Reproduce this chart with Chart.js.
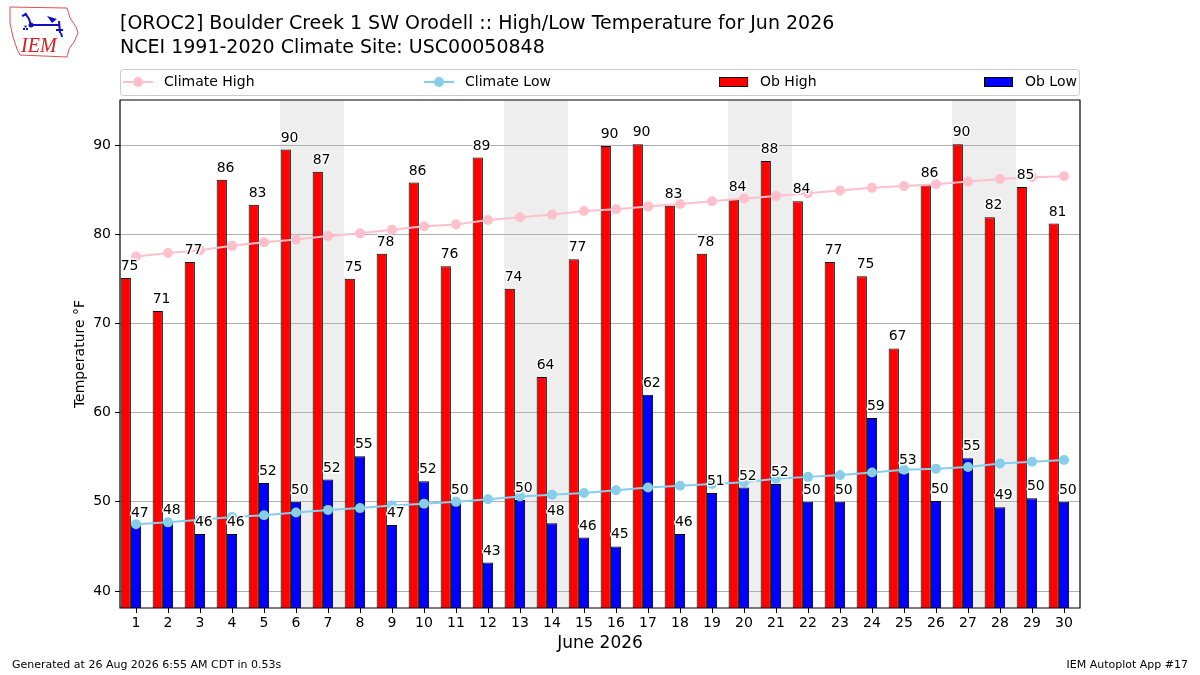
<!DOCTYPE html>
<html>
<head>
<meta charset="utf-8">
<title>Boulder Creek High/Low Temperature</title>
<script src="https://cdn.jsdelivr.net/npm/chart.js@4.4.1/dist/chart.umd.min.js"></script>
<style>
  html, body { margin: 0; padding: 0; background: #fff; }
</style>
</head>
<body>
<canvas id="chart" width="1200" height="675"></canvas>
<script>
// June 2026 days
const days = ['1','2','3','4','5','6','7','8','9','10','11','12','13','14','15',
  '16','17','18','19','20','21','22','23','24','25','26','27','28','29','30'];
const weekendDays = ['6','7','13','14','20','21','27','28'];

const obHigh = [75.1, 71.4, 76.9, 86.1, 83.3, 89.5, 87.0, 75.0, 77.8, 85.8,
  76.4, 88.6, 73.9, 64.0, 77.2, 89.9, 90.1, 83.2, 77.8, 83.9,
  88.2, 83.7, 76.9, 75.3, 67.2, 85.5, 90.1, 81.9, 85.3, 81.2];
const obLow = [47.4, 47.7, 46.4, 46.4, 52.1, 50.0, 52.5, 55.1, 47.4, 52.3,
  50.0, 43.2, 50.2, 47.6, 46.0, 45.0, 62.0, 46.4, 51.0, 51.6,
  52.0, 50.0, 50.0, 59.4, 53.3, 50.1, 54.9, 49.4, 50.4, 50.0];

// NCEI 1991-2020 normals
const climHigh = [77.5, 77.9, 78.2, 78.7, 79.1, 79.4, 79.8, 80.1, 80.5, 80.9,
  81.1, 81.6, 81.9, 82.2, 82.6, 82.8, 83.1, 83.4, 83.7, 84.0,
  84.3, 84.6, 84.9, 85.2, 85.4, 85.6, 85.9, 86.2, 86.4, 86.5];
const climLow = [47.5, 47.7, 48.0, 48.3, 48.5, 48.8, 49.1, 49.3, 49.6, 49.8,
  50.0, 50.3, 50.6, 50.8, 51.0, 51.3, 51.6, 51.8, 52.0, 52.2,
  52.6, 52.8, 53.0, 53.3, 53.6, 53.7, 53.9, 54.3, 54.5, 54.7];

const yTicks = [40, 50, 60, 70, 80, 90];

const FONT = '"DejaVu Sans", sans-serif';

// python style rounding (half to even) for the bar labels
function fmt(v) {
  const f = Math.floor(v);
  if (Math.abs(v - f - 0.5) < 1e-9) return String(f % 2 === 0 ? f : f + 1);
  return String(Math.round(v));
}

const decor = {
  id: 'decor',
  beforeDraw(chart) {
    const { ctx, chartArea: a, scales: { x } } = chart;
    ctx.save();
    ctx.fillStyle = '#fff';
    ctx.fillRect(0, 0, chart.width, chart.height);
    // weekend bands
    const half = (x.getPixelForValue(1) - x.getPixelForValue(0)) / 2;
    ctx.fillStyle = '#eeeeee';
    weekendDays.forEach(d => {
      const cx = x.getPixelForValue(days.indexOf(d));
      ctx.fillRect(cx - half, a.top, half * 2, a.bottom - a.top);
    });
    ctx.restore();
  },
  afterDatasetsDraw(chart) {
    const { ctx, chartArea: a } = chart;
    ctx.save();
    // value labels, left aligned on bar edge
    ctx.font = '14px ' + FONT;
    ctx.textAlign = 'left';
    ctx.textBaseline = 'alphabetic';
    ctx.lineJoin = 'round';
    ctx.strokeStyle = '#fff';
    ctx.lineWidth = 3;
    ctx.fillStyle = '#000';
    chart.data.datasets.forEach((ds, i) => {
      if (ds.type !== 'bar' || !ds.label) return;
      const meta = chart.getDatasetMeta(i);
      meta.data.forEach((bar, j) => {
        const v = ds.data[j];
        if (v == null) return;
        const t = fmt(v);
        const tx = bar.x - bar.width / 2;
        ctx.strokeText(t, tx, bar.y - 8);
        ctx.fillText(t, tx, bar.y - 8);
      });
    });
    // axes frame
    ctx.strokeStyle = '#000';
    ctx.lineWidth = 1.2;
    ctx.strokeRect(a.left, a.top, a.right - a.left, a.bottom - a.top);
    ctx.restore();
  },
  afterDraw(chart) {
    const { ctx } = chart;
    ctx.save();
    // title
    ctx.fillStyle = '#000';
    ctx.font = '19px ' + FONT;
    ctx.textAlign = 'left';
    ctx.textBaseline = 'middle';
    ctx.fillText('[OROC2] Boulder Creek 1 SW Orodell :: High/Low Temperature for Jun 2026', 120, 24);
    ctx.fillText('NCEI 1991-2020 Climate Site: USC00050848', 120, 48);

    // legend
    ctx.beginPath();
    ctx.roundRect(120.5, 69.5, 959, 26, 3);
    ctx.fillStyle = '#fff';
    ctx.fill();
    ctx.strokeStyle = '#cccccc';
    ctx.lineWidth = 1;
    ctx.stroke();
    const legendX = [123, 424, 719, 984];
    const ly = 82;
    let k = 0;
    chart.data.datasets.forEach(ds => {
      if (!ds.label) return;
      const lx = legendX[k++];
      if (ds.type === 'line') {
        ctx.strokeStyle = ds.borderColor;
        ctx.lineWidth = 2;
        ctx.beginPath();
        ctx.moveTo(lx, ly);
        ctx.lineTo(lx + 30, ly);
        ctx.stroke();
        ctx.fillStyle = ds.borderColor;
        ctx.beginPath();
        ctx.arc(lx + 15, ly, 5, 0, Math.PI * 2);
        ctx.fill();
      } else {
        ctx.fillStyle = ds.backgroundColor;
        ctx.fillRect(lx, ly - 5, 29, 10);
        ctx.strokeStyle = '#000';
        ctx.lineWidth = 1;
        ctx.strokeRect(lx + 0.5, ly - 4.5, 28, 9);
      }
      ctx.fillStyle = '#000';
      ctx.font = '14px ' + FONT;
      ctx.textBaseline = 'middle';
      ctx.fillText(ds.label, lx + 41, ly);
    });

    // footer
    ctx.font = '11px ' + FONT;
    ctx.textAlign = 'left';
    ctx.fillText('Generated at 26 Aug 2026 6:55 AM CDT in 0.53s', 12, 665);
    ctx.textAlign = 'right';
    ctx.fillText('IEM Autoplot App #17', 1188, 665);

    // IEM logo (rough)
    ctx.strokeStyle = '#e05050';
    ctx.lineWidth = 1;
    ctx.beginPath();
    ctx.moveTo(10, 7); ctx.lineTo(67, 8); ctx.lineTo(70, 18); ctx.lineTo(76, 27);
    ctx.lineTo(78, 33); ctx.lineTo(74, 42); ctx.lineTo(69, 49); ctx.lineTo(67, 57);
    ctx.lineTo(20, 55); ctx.lineTo(17, 49); ctx.lineTo(13, 37); ctx.lineTo(10, 23);
    ctx.closePath();
    ctx.stroke();
    ctx.strokeStyle = '#1010c0';
    ctx.fillStyle = '#1010c0';
    ctx.lineWidth = 2;
    ctx.beginPath();
    ctx.moveTo(31, 25); ctx.lineTo(60, 25);
    ctx.moveTo(25, 13); ctx.lineTo(29, 19); ctx.lineTo(31, 25);
    ctx.moveTo(22, 16); ctx.lineTo(27, 14);
    ctx.moveTo(59, 21); ctx.lineTo(60, 33);
    ctx.moveTo(56, 30); ctx.lineTo(63, 30);
    ctx.moveTo(61, 33); ctx.lineTo(62, 37);
    ctx.stroke();
    ctx.beginPath();
    ctx.moveTo(47, 16); ctx.lineTo(57, 19); ctx.lineTo(52, 23); ctx.closePath();
    ctx.fill();
    ctx.beginPath();
    ctx.arc(31, 25, 2.5, 0, Math.PI * 2);
    ctx.fill();
    ctx.fillRect(23, 28, 2, 2); ctx.fillRect(26, 28, 2, 2); ctx.fillRect(24.5, 25.5, 2, 2);
    ctx.fillStyle = '#d02020';
    ctx.font = 'italic 20px "Liberation Serif", serif';
    ctx.textAlign = 'left';
    ctx.textBaseline = 'alphabetic';
    ctx.fillText('IEM', 21, 52);
    ctx.restore();
  }
};

new Chart(document.getElementById('chart'), {
  data: {
    labels: days,
    datasets: [
      { type: 'line', label: 'Climate High', data: climHigh, borderColor: '#ffc0cb',
        backgroundColor: '#ffc0cb', pointBackgroundColor: '#ffc0cb', pointBorderWidth: 0,
        pointRadius: 5, borderWidth: 2, order: 0 },
      { type: 'line', label: 'Climate Low', data: climLow, borderColor: '#87ceeb',
        backgroundColor: '#87ceeb', pointBackgroundColor: '#87ceeb', pointBorderWidth: 0,
        pointRadius: 5, borderWidth: 2, order: 0 },
      { type: 'bar', label: 'Ob High', data: obHigh, backgroundColor: '#ff0000',
        borderColor: '#000', borderWidth: 1, order: 1 },
      { type: 'bar', label: 'Ob Low', data: obLow, backgroundColor: '#0000ff',
        borderColor: '#000', borderWidth: 1, order: 1 },
      // empty slot so the pair sits left of the tick like the original
      { type: 'bar', label: '', data: [], order: 1 }
    ]
  },
  options: {
    responsive: false,
    animation: false,
    layout: { padding: { left: 60, right: 120, top: 100, bottom: 0 } },
    plugins: { legend: { display: false }, tooltip: { enabled: false } },
    datasets: { bar: { categoryPercentage: 0.96, barPercentage: 1.0 } },
    scales: {
      x: {
        offset: true,
        grid: { offset: false, drawOnChartArea: false, tickLength: 5, tickColor: '#000' },
        border: { display: false },
        ticks: { font: { family: FONT, size: 14 }, color: '#000', padding: 2,
          maxRotation: 0, autoSkip: false },
        title: { display: true, text: 'June 2026', color: '#000',
          font: { family: FONT, size: 17 }, padding: { top: 0, bottom: 21 } },
        afterFit(s) { s.height = 67; }
      },
      y: {
        min: 38.1,
        max: 95.05,
        afterBuildTicks(s) { s.ticks = yTicks.map(v => ({ value: v })); },
        grid: { color: '#b0b0b0', lineWidth: 1, tickLength: 5, tickColor: '#000' },
        border: { display: false },
        ticks: { font: { family: FONT, size: 14 }, color: '#000', padding: 4 },
        title: { display: true, text: 'Temperature °F', color: '#000',
          font: { family: FONT, size: 14 }, padding: { top: 12, bottom: 0 } },
        afterFit(s) { s.width = 60; }
      }
    }
  },
  plugins: [decor]
});
</script>
</body>
</html>
